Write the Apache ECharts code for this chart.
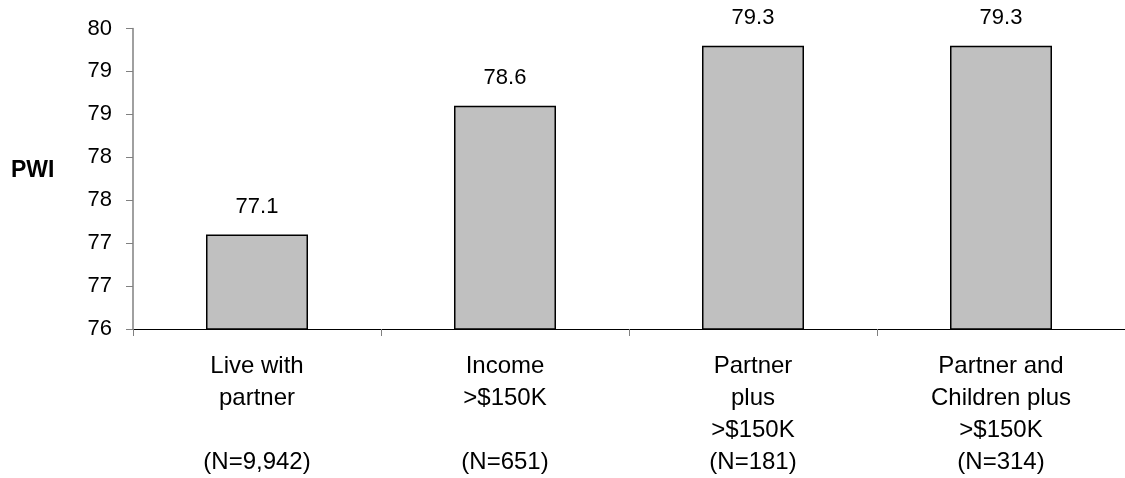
<!DOCTYPE html>
<html>
<head>
<meta charset="utf-8">
<script src="https://cdn.jsdelivr.net/npm/echarts@6/dist/echarts.min.js"></script>
<style>
html,body{margin:0;padding:0;background:#fff;}
#chart{width:1125px;height:478px;}
</style>
</head>
<body>
<div id="chart"></div>
<script>
const categories = [
  "Live with\npartner\n\n(N=9,942)",
  "Income\n>$150K\n\n(N=651)",
  "Partner\nplus\n>$150K\n(N=181)",
  "Partner and\nChildren plus\n>$150K\n(N=314)"
];
const pwiValues = [77.1, 78.6, 79.3, 79.3];
const yAxisTitle = "PWI";
const yMin = 76, yMax = 79.5, yStep = 0.5;

const chart = echarts.init(document.getElementById('chart'), null, {renderer: 'canvas'});
const font = 'Arial, "Liberation Sans", sans-serif';
chart.setOption({
  animation: false,
  backgroundColor: '#ffffff',
  grid: {left: 133, top: 28.5, bottom: 148, width: 996},
  graphic: [{
    type: 'text', left: 11, top: 159,
    style: {text: yAxisTitle, font: 'bold 23px ' + font, fill: '#000'}
  }],
  xAxis: {
    type: 'category',
    data: categories,
    boundaryGap: true,
    axisLine: {lineStyle: {color: '#000', width: 1}},
    axisTick: {show: true, alignWithLabel: false, length: 7, lineStyle: {color: '#808080'}},
    axisLabel: {color: '#000', fontFamily: font, fontSize: 24, lineHeight: 32, margin: 21, interval: 0}
  },
  yAxis: {
    type: 'value',
    min: yMin, max: yMax, interval: yStep,
    splitLine: {show: false},
    axisLine: {show: true, lineStyle: {color: '#808080', width: 1.5}},
    axisTick: {show: true, length: 7, lineStyle: {color: '#808080'}},
    axisLabel: {color: '#000', fontFamily: font, fontSize: 22, margin: 21,
      formatter: v => String(Math.round(v))}
  },
  series: [{
    type: 'bar',
    data: pwiValues,
    barWidth: 102,
    itemStyle: {color: '#C0C0C0', borderColor: '#000', borderWidth: 1.5},
    label: {show: true, position: 'top', distance: 17, color: '#000', fontFamily: font, fontSize: 22,
      formatter: p => p.value.toFixed(1)}
  }]
});
</script>
</body>
</html>
